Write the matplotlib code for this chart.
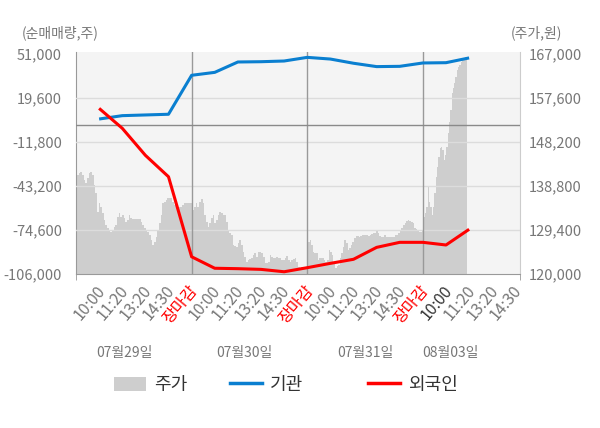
import numpy as np
import matplotlib
matplotlib.use('Agg')
import matplotlib.pyplot as plt
import matplotlib.transforms as mtrans
from matplotlib.patches import Patch
from matplotlib.lines import Line2D

plt.rcParams['font.family'] = ['Noto Sans CJK KR', 'DejaVu Sans']

#   ---- data ----
day_names = ['07월29일', '07월30일', '07월31일', '08월03일']
slot_names = ['10:00', '11:20', '13:20', '14:30', '장마감']
last_day_slots = ['10:00', '11:20', '13:20', '14:30']

# cumulative net buying (shares), one value per release slot
inst_net = [4600, 7000, 7500, 8000, 35800,
            37900, 45300, 45500, 46000, 48600,
            47400, 44400, 42000, 42200, 44600,
            44800, 48200]
foreign_net = [12200, -2000, -21300, -36600, -93700,
               -101900, -102200, -102700, -104400, -101500,
               -98400, -95500, -87000, -83400, -83400,
               -85300, -74100]

# intraday price (won)
price_0729 = [140100, 141150, 141500, 141850, 141150, 140100, 139350, 140450, 141500, 141850,
              141150, 139000, 137250, 133300, 135100, 134400, 132950, 131550, 130450, 129750,
              129250, 129050, 129400, 130100, 130450, 132250, 132950, 132250, 132600, 131900,
              131200, 131550, 132600, 131900, 131700, 131700, 131700, 131700, 131700, 131200,
              130450, 129750, 129400, 129050, 128350, 127250, 126200, 126900, 127950, 129400,
              130800, 132600, 135100, 135450, 135800, 136150, 136150, 136150, 135450, 134750,
              134750, 134050, 134400, 134400, 134750, 135100, 135250, 135250, 135250, 135250]
price_0730 = [135450, 133650, 134400, 135100, 134400, 135450, 135950, 135100, 132600, 131200,
              130100, 130800, 131900, 132600, 130800, 131550, 132600, 133300, 132950, 132600,
              132600, 131200, 129400, 128850, 128350, 126200, 126000, 125700, 126550, 127250,
              126200, 124750, 123700, 122650, 123000, 123150, 123350, 124050, 124400, 123700,
              124750, 124750, 124400, 123700, 122300, 122300, 122650, 124050, 123700, 123350,
              123350, 123550, 123350, 123350, 123000, 123000, 123350, 123850, 123000, 122650,
              123000, 123150, 123350, 122650, 121550, 120850, 121400, 121200, 121400, 121550]
price_0731 = [124750, 126900, 127250, 126200, 124750, 124400, 124400, 123000, 123350, 123350,
              123350, 123000, 122650, 123000, 125150, 124750, 124050, 122300, 121200, 121700,
              121900, 123350, 124400, 125700, 127250, 126550, 125150, 125500, 126200, 126900,
              127600, 128100, 128100, 127950, 128100, 128350, 128350, 128350, 128350, 128100,
              128350, 128550, 128700, 128700, 129400, 128850, 128100, 127950, 127950, 128350,
              127850, 127950, 127850, 127950, 127850, 127850, 128350, 128350, 128700, 129250,
              129750, 130450, 130950, 131300, 131550, 131300, 131200, 130800, 129750, 129550,
              129400, 129050, 129050, 129250]
price_0803 = [131200, 132250, 132950, 134400, 138650, 135450, 134400, 132600, 134400, 137250,
              140800, 142950, 145050, 146850, 147200, 146500, 144350, 145400, 147200, 150050,
              152550, 155050, 158600, 159650, 160700, 162150, 163550, 164300, 164650, 165350,
              165700, 166050, 166300, 166300]
last_day_progress = 0.38   # share of the 08/03 session already traded

left_ticks = [51000, 19600, -11800, -43200, -74600, -106000]
right_ticks = [120000, 129400, 138800, 148200, 157600, 167000]

BLUE = '#0a7fd0'
RED = '#ff0000'
AREA = '#cecece'
GREY_TXT = '#777777'

#   ---- layout ----
fig = plt.figure(figsize=(6.0, 4.28), dpi=100, facecolor='w')
ax_p = fig.add_axes([76/600., 1-274/428., 444/600., 222/428.])
ax_f = ax_p.twinx()
ax_p.set_zorder(1)
ax_f.set_zorder(2)
ax_p.set_facecolor('#f4f4f4')
ax_f.patch.set_alpha(0.0)

# price area
prices = [price_0729, price_0730, price_0731, price_0803]
xs, ys = [], []
for i, p in enumerate(prices):
    span = 5 * (last_day_progress if i == len(prices) - 1 else 1.0)
    xs.append(np.linspace(5*i, 5*i + span, len(p)))
    ys.append(np.array(p, dtype=float))
xs = np.concatenate(xs)
ys = np.concatenate(ys)
ax_p.fill_between(xs, 120000, ys, color=AREA, lw=0, step='mid')

# flow lines
slots = np.arange(1, len(inst_net) + 1)
for v in left_ticks[1:-1]:
    ax_f.axhline(v, color='#dcdcdc', lw=1, zorder=0)
for b in [5, 10, 15]:
    ax_f.axvline(b, color='#999999', lw=1, zorder=1)
ax_f.axhline(0, color='#8a8a8a', lw=1, zorder=1)
ax_f.plot(slots, inst_net, color=BLUE, lw=2.2, zorder=3, solid_capstyle='butt')
ax_f.plot(slots, foreign_net, color=RED, lw=2.2, zorder=3, solid_capstyle='butt')

# limits
ax_p.set_xlim(0, 19.2)
ax_p.set_ylim(120000, 167000 + 47000 * 2/220.)
ax_f.set_ylim(-106000, 51000 + 157000 * 2/220.)

# y axes
ax_f.yaxis.set_ticks_position('left')
ax_f.set_yticks(left_ticks)
ax_f.set_yticklabels(['{:,}'.format(v) for v in left_ticks])
ax_f.tick_params(axis='y', length=0, pad=10, labelsize=10.5, labelcolor=GREY_TXT)
ax_p.yaxis.set_ticks_position('right')
ax_p.set_yticks(right_ticks)
ax_p.set_yticklabels(['{:,}'.format(v) for v in right_ticks])
ax_p.tick_params(axis='y', length=0, pad=6, labelsize=10.5, labelcolor=GREY_TXT)

# x axis
labels = slot_names * 3 + last_day_slots
xt = np.arange(1, len(labels) + 1)
ax_p.set_xticks(xt)
ax_p.set_xticklabels(labels, rotation=50, ha='right', va='center', rotation_mode='anchor')
ax_p.set_xticks([0, 5, 10, 15, 19.2], minor=True)
ax_p.tick_params(axis='x', which='major', length=0, pad=10, labelsize=11.5, labelcolor=GREY_TXT)
ax_p.tick_params(axis='x', which='minor', length=4, color='#999999')
shift = mtrans.ScaledTranslation(3/100., 0, fig.dpi_scale_trans)
for lab in ax_p.get_xticklabels():
    lab.set_transform(lab.get_transform() + shift)
    if lab.get_text() == '장마감':
        lab.set_color(RED)
ax_p.get_xticklabels()[15].set_color('#333333')

for sp in ax_f.spines.values():
    sp.set_visible(False)
ax_p.spines['top'].set_visible(False)
ax_p.spines['left'].set_color('#999999')
ax_p.spines['bottom'].set_color('#999999')
ax_p.spines['right'].set_color('#cccccc')

# day captions under the ticks
day_pos = [2.1, 7.3, 12.5, 16.2]
for name, xp in zip(day_names, day_pos):
    ax_p.text(xp, -79/222., name, transform=ax_p.get_xaxis_transform(),
              ha='center', va='center', fontsize=10, color=GREY_TXT)

fig.text(22/600., 1-33/428., '(순매매량,주)', ha='left', va='center', fontsize=10, color=GREY_TXT)
fig.text(562/600., 1-33/428., '(주가,원)', ha='right', va='center', fontsize=10, color=GREY_TXT)

# legend: three single-entry legends, one per column
handles = [Patch(facecolor=AREA, edgecolor='none'),
           Line2D([], [], color=BLUE, lw=2.5),
           Line2D([], [], color=RED, lw=2.5)]
names = ['주가', '기관', '외국인']
starts = [114, 230, 368]
for h, n, x0 in zip(handles, names, starts):
    fig.legend([h], [n], loc='center left', bbox_to_anchor=(x0/600., 1-385/428.),
               frameon=False, fontsize=13, borderpad=0, borderaxespad=0,
               handlelength=1.77, handleheight=0.8, handletextpad=0.45,
               labelcolor='#333333')

fig.savefig('out.png', dpi=100)
